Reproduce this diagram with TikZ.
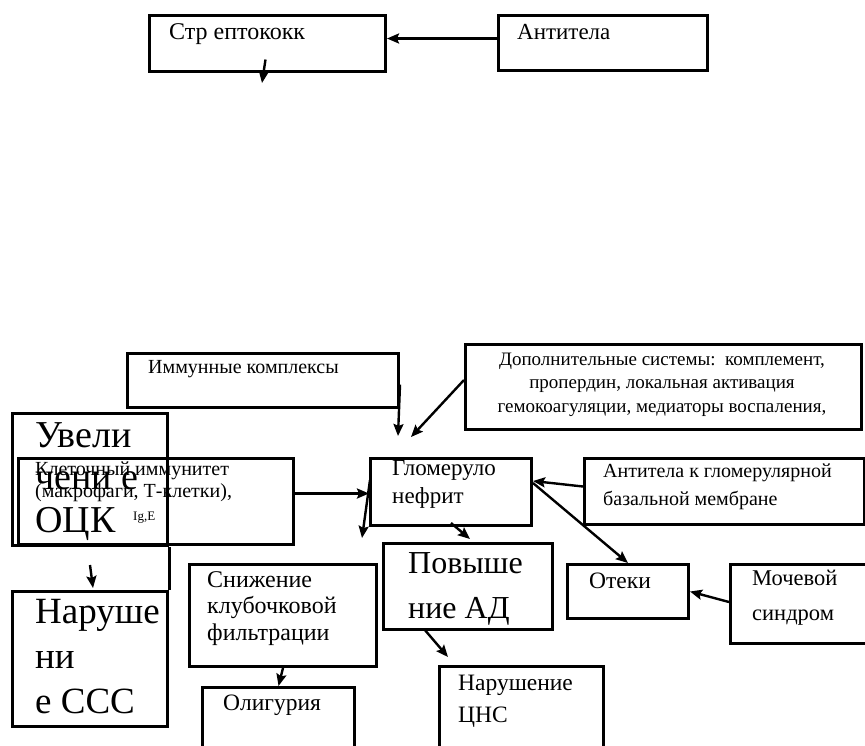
\documentclass[tikz,border=0pt]{standalone}
\usepackage{fontspec}
\setmainfont{Liberation Serif}
\usetikzlibrary{arrows.meta,calc}

\begin{document}
\begin{tikzpicture}[x=1pt,y=-1pt,box/.style={draw, line width=3pt, inner sep=0pt, anchor=north west},txt/.style={anchor=base west, inner sep=0pt, align=left},link/.style={-{Stealth[length=12pt,width=10pt,inset=2pt]}, line width=2.4pt}]
\useasboundingbox (0,0) rectangle (865,745);
\clip (0,0) rectangle (865,745);
% boxes
\node[box, minimum width=236pt, minimum height=56pt] (strep) at (148,14) {};
\node[box, minimum width=209pt, minimum height=55pt] (anti) at (497,14) {};
\node[box, minimum width=271pt, minimum height=54pt] (immun) at (126,352) {};
\node[box, minimum width=396pt, minimum height=85pt] (dop) at (464,343) {};
\node[box, minimum width=155pt, minimum height=132pt] (uvel) at (11,412) {};
\node[box, minimum width=275pt, minimum height=86pt] (kletk) at (17,457) {};
\node[box, minimum width=161pt, minimum height=67pt] (glom) at (369,457) {};
\node[box, minimum width=280pt, minimum height=66pt] (antigbm) at (583,457) {};
\node[box, minimum width=169pt, minimum height=86pt] (povysh) at (382,542) {};
\node[box, minimum width=187pt, minimum height=102pt] (snizh) at (188,563) {};
\node[box, minimum width=152pt, minimum height=80pt] (olig) at (201,686) {};
\node[box, minimum width=155pt, minimum height=135pt] (narush) at (11,590) {};
\node[box, minimum width=164pt, minimum height=100pt] (cns) at (438,665) {};
\node[box, minimum width=121pt, minimum height=54pt] (oteki) at (566,563) {};
\node[box, minimum width=136pt, minimum height=79pt] (moch) at (729,563) {};
\draw[line width=3pt] (uvel.south east) -- (narush.north east);
% texts (multi-line nodes sit on their last baseline)
\node[txt, font=\fontsize{24}{28}\selectfont] (strep-t) at (169,39) {Стр ептококк};
\node[txt, font=\fontsize{23}{28}\selectfont] (anti-t) at (517,39) {Антитела};
\node[txt, font=\fontsize{20}{24}\selectfont] (immun-t) at (148,373) {Иммунные комплексы};
\node[txt, anchor=base, align=center, font=\fontsize{19}{23.5}\selectfont] (dop-t) at (662,412) {Дополнительные системы:\ \ комплемент,\\пропердин, локальная активация\\гемокоагуляции,\ медиаторы\ воспаления,};
\node[txt, font=\fontsize{38}{42.5}\selectfont] (uvel-t) at (35,532) {Увели\\чени е\\ОЦК};
\node[txt, font=\fontsize{20}{22}\selectfont] (kletk-t) at (35,497) {Клеточный иммунитет\\(макрофаги, Т-клетки),};
\node[txt, font=\fontsize{13}{15}\selectfont] (ige-t) at (133,520) {Ig,E};
\node[txt, font=\fontsize{23}{28}\selectfont] (glom-t) at (392,503) {Гломеруло\\нефрит};
\node[txt, font=\fontsize{20}{28}\selectfont] (antigbm-t) at (603,505) {Антитела к гломерулярной\\базальной мембране};
\node[txt, font=\fontsize{32}{45}\selectfont] (povysh-t) at (408,618) {Повыше\\ние АД};
\node[txt, font=\fontsize{24}{26.5}\selectfont] (snizh-t) at (207,640) {Снижение\\клубочковой\\фильтрации};
\node[txt, font=\fontsize{23.5}{28}\selectfont] (olig-t) at (223,710) {Олигурия};
\node[txt, font=\fontsize{37}{45}\selectfont] (narush-t) at (35,713) {Наруше\\ни\\е ССС};
\node[txt, font=\fontsize{23.5}{32}\selectfont] (cns-t) at (458,722) {Нарушение\\ЦНС};
\node[txt, font=\fontsize{23.5}{28}\selectfont] (oteki-t) at (589,588) {Отеки};
\node[txt, font=\fontsize{22.5}{35}\selectfont] (moch-t) at (752,620) {Мочевой\\синдром};
% free ends
\coordinate (strep-out) at (262,83);
\coordinate (immun-out) at (398,436);
\coordinate (dop-out) at (411,437);
\coordinate (glom-out) at (362,538);
% arrows
\draw[link] ([yshift=4.5pt]anti.west) -- ([yshift=5pt]strep.east);
\draw[link] ([xshift=-2pt,yshift=-16pt]strep.center) -- (strep-out);
\draw[link] ([yshift=-4pt]immun.east) -- (immun-out);
\draw[link] ([yshift=7pt]dop.west) -- (dop-out);
\draw[link] ([yshift=8pt]kletk.east) -- ([yshift=-1.5pt]glom.west);
\draw[link] ([xshift=1pt,yshift=12pt]glom.west) -- (glom-out);
\draw[link] ([yshift=4pt]glom.south) -- ([xshift=2pt,yshift=3pt]povysh.north);
\draw[link] ([yshift=5pt]antigbm.west) -- ([yshift=11pt]glom.east);
\draw[link] ([yshift=9pt]glom.east) -- (oteki.north);
\draw[link] ([yshift=2pt]moch.west) -- (oteki.east);
\draw[link] ([xshift=-44pt,yshift=2pt]povysh.south) -- ([xshift=10pt,yshift=8pt]cns.north west);
\draw[link] (snizh.south) -- (olig.north);
\draw[link] ([yshift=-18pt]uvel.south) -- ([xshift=3pt,yshift=2pt]narush.north);
\end{tikzpicture}
\end{document}
